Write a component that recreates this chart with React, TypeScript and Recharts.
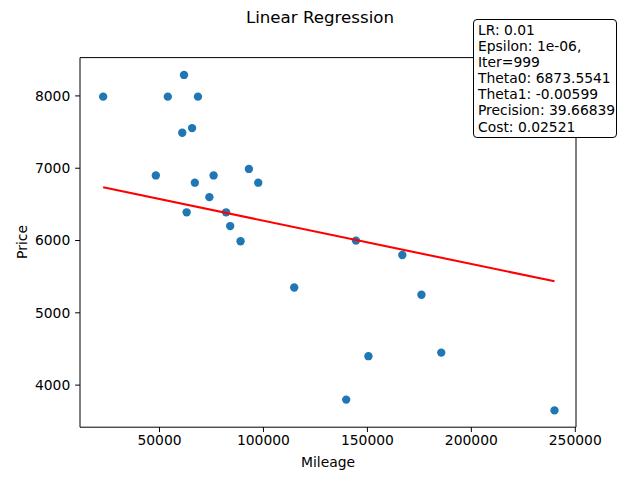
import { ScatterChart, Scatter, XAxis, YAxis, ReferenceArea } from 'recharts';

// 42 car dataset: mileage (km) vs price
const mileage = [240000, 139800, 150500, 185530, 176000, 114800, 166800, 89000, 144500, 84000, 82029, 63060, 74000, 97500, 67000, 76025, 48235, 93000, 60949, 65674, 54000, 68500, 22899, 61789];
const price = [3650, 3800, 4400, 4450, 5250, 5350, 5800, 5990, 5999, 6200, 6390, 6390, 6600, 6800, 6800, 6900, 6900, 6990, 7490, 7555, 7990, 7990, 7990, 8290];

// regression line end points
const fitMileage = [22899, 240000];
const fitPrice = [6736, 5436];

const xTicks = [50000, 100000, 150000, 200000, 250000];
const yTicks = [4000, 5000, 6000, 7000, 8000];
const xDomain = [11760, 250340];
const yDomain = [3418, 8530];

const infoLines = [
  'LR: 0.01',
  'Epsilon: 1e-06,',
  'Iter=999',
  'Theta0: 6873.5541',
  'Theta1: -0.00599',
  'Precision: 39.66839',
  'Cost: 0.02521',
];

const FONT = '"DejaVu Sans", sans-serif';

const points = mileage.map((m, i) => ({ x: m, y: price[i] }));
const fitLine = fitMileage.map((m, i) => ({ x: m, y: fitPrice[i] }));

const tickStyle = { fill: '#000', fontSize: 13.89, fontFamily: FONT };

export default function App() {
  return (
    <div style={{ position: 'absolute', left: 0, top: 0, width: 640, height: 480, background: '#fff', fontFamily: FONT }}>
      <ScatterChart width={640} height={480} margin={{ top: 57.6, right: 64, bottom: 0, left: 0 }}>
        <XAxis
          type="number"
          dataKey="x"
          domain={xDomain}
          ticks={xTicks}
          allowDataOverflow
          height={52.8}
          axisLine={false}
          tickLine={{ stroke: '#000' }}
          tickSize={4.86}
          tickMargin={3.5}
          tick={tickStyle}
        />
        <YAxis
          type="number"
          dataKey="y"
          domain={yDomain}
          ticks={yTicks}
          allowDataOverflow
          width={80}
          axisLine={false}
          tickLine={{ stroke: '#000' }}
          tickSize={4.86}
          tickMargin={4.86}
          tick={tickStyle}
        />
        <Scatter
          data={points}
          fill="#1f77b4"
          isAnimationActive={false}
          shape={(p: any) => <circle cx={p.cx} cy={p.cy} r={4.17} fill="#1f77b4" />}
        />
        <Scatter
          data={fitLine}
          line={{ stroke: '#ff0000', strokeWidth: 2.08 }}
          isAnimationActive={false}
          shape={() => <g />}
        />
        <ReferenceArea
          x1={xDomain[0]}
          x2={xDomain[1]}
          y1={yDomain[0]}
          y2={yDomain[1]}
          fill="none"
          fillOpacity={0}
          stroke="#000"
          strokeWidth={1}
        />
      </ScatterChart>

      <div style={{ position: 'absolute', left: 0, width: 640, top: 8, textAlign: 'center', fontSize: 16.67, color: '#000' }}>
        Linear Regression
      </div>
      <div style={{ position: 'absolute', left: 328, top: 462, transform: 'translate(-50%, -50%)', fontSize: 13.89, color: '#000', whiteSpace: 'nowrap' }}>
        Mileage
      </div>
      <div style={{ position: 'absolute', left: 22, top: 242, transform: 'translate(-50%, -50%) rotate(-90deg)', fontSize: 13.89, color: '#000', whiteSpace: 'nowrap' }}>
        Price
      </div>
      <div
        style={{
          position: 'absolute',
          left: 473,
          top: 19,
          width: 144,
          height: 119,
          boxSizing: 'border-box',
          border: '1px solid #000',
          borderRadius: 4,
          background: '#fff',
          padding: '2px 0 0 4px',
          fontSize: 13.89,
          lineHeight: '16.1px',
          color: '#000',
          whiteSpace: 'nowrap',
        }}
      >
        {infoLines.map((t) => (
          <div key={t}>{t}</div>
        ))}
      </div>
    </div>
  );
}
